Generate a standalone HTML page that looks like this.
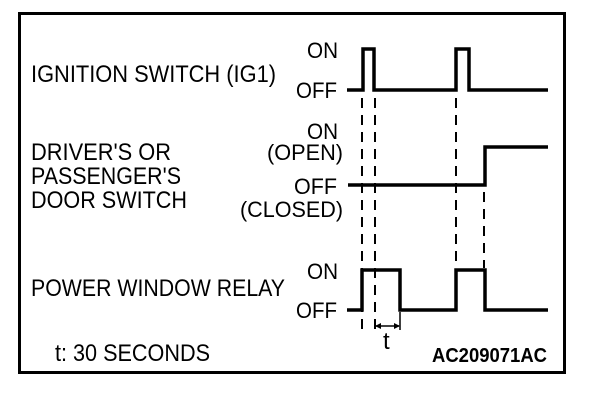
<!DOCTYPE html>
<html><head><style>body{margin:0;background:#fff}svg{display:block}</style></head><body>
<svg width="608" height="404" viewBox="0 0 608 404" xmlns="http://www.w3.org/2000/svg" font-family="Liberation Sans, Arial, sans-serif" fill="#000">
<rect x="19.5" y="13.5" width="545" height="359" fill="none" stroke="#000" stroke-width="3"/>
<g font-size="24">
<text x="31" y="82" textLength="245" lengthAdjust="spacingAndGlyphs">IGNITION SWITCH (IG1)</text>
<text x="31" y="160" textLength="140" lengthAdjust="spacingAndGlyphs">DRIVER'S OR</text>
<text x="31" y="184" textLength="150" lengthAdjust="spacingAndGlyphs">PASSENGER'S</text>
<text x="31" y="208" textLength="156" lengthAdjust="spacingAndGlyphs">DOOR SWITCH</text>
<text x="31" y="296" textLength="254" lengthAdjust="spacingAndGlyphs">POWER WINDOW RELAY</text>
<text x="55" y="361" textLength="155" lengthAdjust="spacingAndGlyphs">t: 30 SECONDS</text>
</g>
<g font-size="22">
<text x="307" y="58" textLength="31" lengthAdjust="spacingAndGlyphs">ON</text>
<text x="296" y="98" textLength="41" lengthAdjust="spacingAndGlyphs">OFF</text>
<text x="307" y="139" textLength="31" lengthAdjust="spacingAndGlyphs">ON</text>
<text x="267" y="160" textLength="76" lengthAdjust="spacingAndGlyphs">(OPEN)</text>
<text x="294" y="194" textLength="43" lengthAdjust="spacingAndGlyphs">OFF</text>
<text x="240" y="217" textLength="103" lengthAdjust="spacingAndGlyphs">(CLOSED)</text>
<text x="307" y="279" textLength="31" lengthAdjust="spacingAndGlyphs">ON</text>
<text x="296" y="318" textLength="41" lengthAdjust="spacingAndGlyphs">OFF</text>
</g>
<text x="383" y="349" font-family="Liberation Sans, Arial, sans-serif" font-size="24">t</text>
<text x="432" y="362" font-family="Liberation Sans, Arial, sans-serif" font-weight="bold" font-size="20" textLength="115" lengthAdjust="spacingAndGlyphs">AC209071AC</text>
<g fill="none" stroke="#000" stroke-width="3.5" stroke-linejoin="miter">
<polyline points="347,90 363,90 363,49 374,49 374,90 456,90 456,49 469,49 469,90 548,90"/>
<polyline points="348,185 485,185 485,147 548,147"/>
<polyline points="347,310 362,310 362,270 400,270 400,310 456,310 456,270 485,270 485,310 548,310"/>
</g>
<g stroke="#000" stroke-width="2" stroke-dasharray="10,7">
<line x1="362" y1="98" x2="362" y2="332"/>
<line x1="375" y1="98" x2="375" y2="332"/>
<line x1="456" y1="98" x2="456" y2="268"/>
<line x1="484" y1="192" x2="484" y2="268"/>
</g>
<g stroke="#000" stroke-width="1.5">
<line x1="400" y1="312" x2="400" y2="330"/>
<line x1="376" y1="326" x2="399" y2="326"/>
</g>
<polygon points="375,326 381,323 381,329"/>
<polygon points="400,326 394,323 394,329"/>
</svg>
</body></html>
